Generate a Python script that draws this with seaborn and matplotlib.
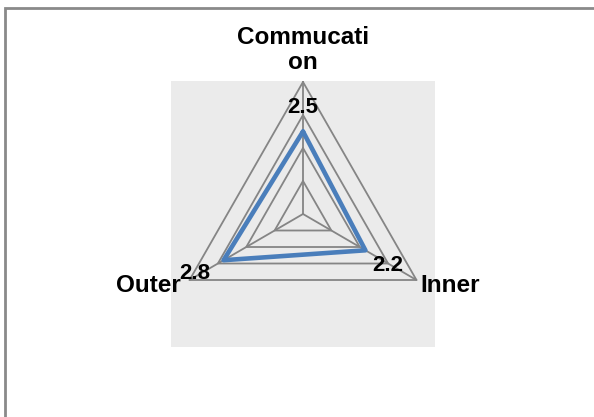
import numpy as np
import pandas as pd
import matplotlib
matplotlib.use("Agg")
import matplotlib.pyplot as plt
import matplotlib.patches as mpatches
import seaborn as sns

categories = ["Commucati\non", "Inner", "Outer"]
values = [2.5, 2.2, 2.8]
rings = [1, 2, 3, 4]

sns.set_style("white")
plt.rcParams["font.family"] = ["Liberation Sans", "DejaVu Sans"]

# angles: first axis on top, going clockwise
n = len(categories)
angles = np.pi / 2 - 2 * np.pi * np.arange(n) / n

fig = plt.figure(figsize=(5.94, 4.17), dpi=100)
ax = fig.add_axes([171 / 594, 70 / 417, 264 / 594, 266 / 417])
ax.set_facecolor("#ebebeb")
lim = 4.03
ax.set_xlim(-lim, lim)
ax.set_ylim(-lim, lim)
ax.set_xticks([])
ax.set_yticks([])
for s in ax.spines.values():
    s.set_visible(False)

grid_color = "#858585"
# rings
for r in rings:
    xs = np.append(r * np.cos(angles), r * np.cos(angles[0]))
    ys = np.append(r * np.sin(angles), r * np.sin(angles[0]))
    ax.plot(xs, ys, color=grid_color, lw=1.3, zorder=1)
# spokes
for a in angles:
    ax.plot([0, max(rings) * np.cos(a)], [0, max(rings) * np.sin(a)], color=grid_color, lw=1.3, zorder=1)

# data polygon (closed)
vals = np.array(values)
df = pd.DataFrame({
    "x": np.append(vals * np.cos(angles), vals[0] * np.cos(angles[0])),
    "y": np.append(vals * np.sin(angles), vals[0] * np.sin(angles[0])),
})
sns.lineplot(data=df, x="x", y="y", sort=False, estimator=None, color="#4a7ebb", lw=3.3, ax=ax, zorder=3)
ax.set_xlabel("")
ax.set_ylabel("")

# value labels
label_offsets = [(0, 17.5), (16, -11), (-21, -9.5)]
for v, a, off in zip(values, angles, label_offsets):
    ax.annotate(f"{v}", (v * np.cos(a), v * np.sin(a)), xytext=off, textcoords="offset points",
                ha="center", va="center", fontsize=16, fontweight="bold", color="black", zorder=4)

# category labels
cat_pos = [("center", "bottom", (0, 6)),
           ("left", "center", (3, -4)),
           ("right", "center", (-6, -4))]
R = max(rings)
for cat, a, (ha, va, off) in zip(categories, angles, cat_pos):
    ax.annotate(cat, (R * np.cos(a), R * np.sin(a)), xytext=off, textcoords="offset points",
                ha=ha, va=va, fontsize=17.5, fontweight="bold", color="black",
                linespacing=1.1, annotation_clip=False)

# outer border of the chart area
fig.add_artist(mpatches.Rectangle((5 / 594, -0.1), 1.2, 1 - 8 / 417 + 0.1, transform=fig.transFigure,
                                  fill=False, edgecolor="#8a8a8a", lw=2))

fig.savefig("out.png", dpi=100)
